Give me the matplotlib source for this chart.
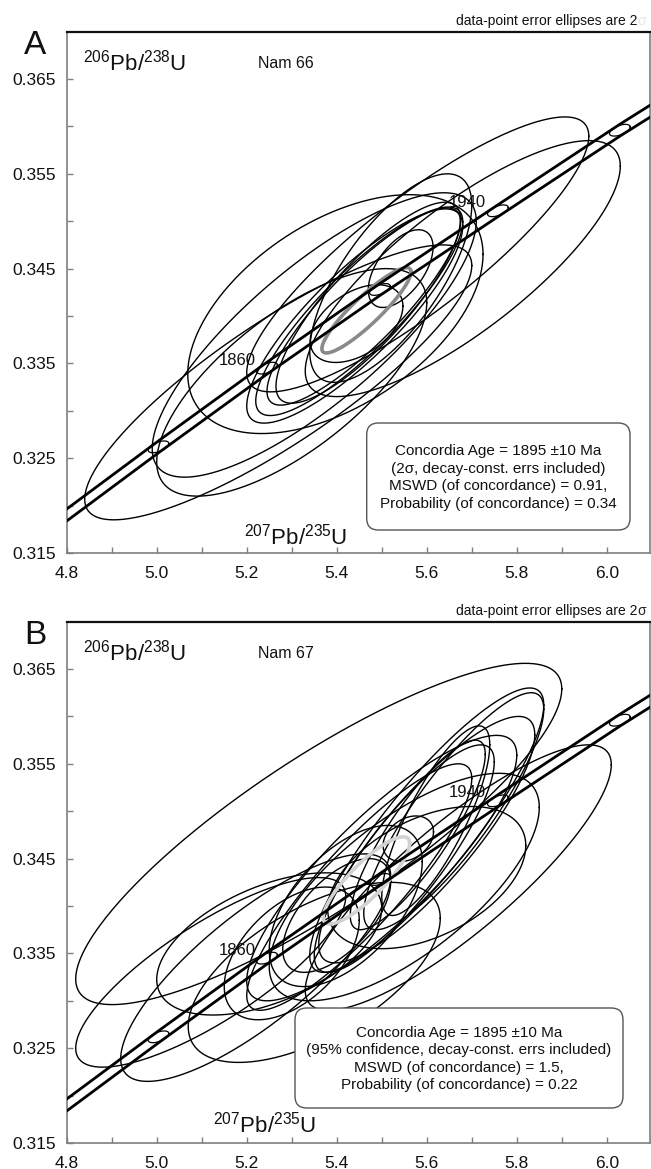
import numpy as np
import matplotlib
matplotlib.use('Agg')
import matplotlib.pyplot as plt
from matplotlib.patches import FancyBboxPatch

plt.rcParams['font.family'] = ['Liberation Sans', 'DejaVu Sans']
plt.rcParams['mathtext.fontset'] = 'custom'
plt.rcParams['mathtext.rm'] = 'Liberation Sans'

# ---------------- data ----------------
# concordia centre line
conc_x = [4.78, 5.004, 5.245, 5.496, 5.758, 6.029, 6.20]
conc_y = [0.3183, 0.3262, 0.3345, 0.3428, 0.3511, 0.3596, 0.3647]
conc_half_band = 0.00063
# age markers
mark_age = [1820, 1860, 1900, 1940, 1980]
mark_x = [5.004, 5.245, 5.496, 5.758, 6.029]
mark_y = [0.3262, 0.3345, 0.3428, 0.3511, 0.3596]
label_ages = ['1860', '1940']
label_x = [5.18, 5.69]
label_y = [0.3353, 0.3520]

# Panel A ellipses: centre x, centre y, half-width x, half-width y, rho
a_cx = [5.45, 5.46, 5.44, 5.47, 5.444, 5.542, 5.397, 5.58, 5.68, 5.27, 5.30, 5.52, 5.35]
a_cy = [0.3405, 0.3410, 0.3400, 0.3414, 0.3392, 0.3450, 0.3402, 0.3465, 0.3450, 0.3330, 0.3330, 0.3440, 0.3380]
a_sx = [0.23, 0.215, 0.24, 0.205, 0.103, 0.072, 0.328, 0.38, 0.35, 0.43, 0.30, 0.18, 0.36]
a_sy = [0.0110, 0.0104, 0.0113, 0.0106, 0.0041, 0.0041, 0.0126, 0.0145, 0.0135, 0.0145, 0.0120, 0.0110, 0.0150]
a_rho = [0.86, 0.86, 0.84, 0.83, 0.45, 0.55, 0.50, 0.86, 0.80, 0.85, 0.70, 0.70, 0.80]
a_grey = [5.466, 0.3406, 0.099, 0.0045, 0.90]

# Panel B ellipses
b_cx = [5.559, 5.36, 5.67, 5.60, 5.55, 5.58, 5.25, 5.42, 5.60, 5.35, 5.22, 5.50, 5.45, 5.62, 5.40, 5.30, 5.12, 5.55, 5.60, 5.66]
b_cy = [0.3471, 0.3476, 0.3430, 0.3470, 0.3450, 0.3475, 0.3360, 0.3400, 0.3430, 0.3330, 0.3335, 0.3440, 0.3420, 0.3490, 0.3390, 0.3350, 0.3330, 0.3420, 0.3480, 0.3500]
b_sx = [0.056, 0.54, 0.34, 0.24, 0.20, 0.15, 0.25, 0.17, 0.22, 0.28, 0.30, 0.30, 0.25, 0.12, 0.12, 0.15, 0.30, 0.30, 0.26, 0.20]
b_sy = [0.0024, 0.0180, 0.0140, 0.0130, 0.0120, 0.0100, 0.0075, 0.0085, 0.0075, 0.0095, 0.0120, 0.0140, 0.0130, 0.0100, 0.0060, 0.0070, 0.0100, 0.0120, 0.0150, 0.0125]
b_rho = [0.30, 0.85, 0.85, 0.85, 0.85, 0.85, 0.50, 0.55, 0.45, 0.60, 0.80, 0.85, 0.88, 0.80, 0.60, 0.50, 0.80, 0.70, 0.88, 0.86]
b_grey = [5.466, 0.3427, 0.096, 0.0046, 0.85]

x_ticklabels = ['4.8', '5.0', '5.2', '5.4', '5.6', '5.8', '6.0']
y_ticklabels = ['0.315', '0.325', '0.335', '0.345', '0.355', '0.365']

panels = [
    dict(letter='A', name='Nam 66', cx=a_cx, cy=a_cy, sx=a_sx, sy=a_sy, rho=a_rho,
         grey=a_grey, grey_col='#8a8a8a',
         box=['Concordia Age = 1895 \u00b110 Ma', '(2\u03c3, decay-const. errs included)',
              'MSWD (of concordance) = 0.91,', 'Probability (of concordance) = 0.34'],
         sigma_col='#e6e6e6'),
    dict(letter='B', name='Nam 67', cx=b_cx, cy=b_cy, sx=b_sx, sy=b_sy, rho=b_rho,
         grey=b_grey, grey_col='#d2d2d2',
         box=['Concordia Age = 1895 \u00b110 Ma', '(95% confidence, decay-const. errs included)',
              'MSWD (of concordance) = 1.5,', 'Probability (of concordance) = 0.22'],
         sigma_col='#222222'),
]

W, H = 651, 1169
fig = plt.figure(figsize=(W / 100, H / 100), dpi=100)

xlim = (4.8, 6.096)
ylim = (0.315, 0.36996)
ax_left_px, ax_right_px = 66.7, 650
ax_tops = [32, 622]
ax_h_px = 521
box_geom = [(366.7, 423, 630, 530), (295, 1008, 623, 1108)]
xlab_pos = [(296, 537), (265, 1125)]

t = np.linspace(0, 2 * np.pi, 361)


def ell(ax, cx, cy, sx, sy, rho, **kw):
    xs = cx + sx * np.cos(t)
    ys = cy + sy * (rho * np.cos(t) + np.sqrt(1 - rho ** 2) * np.sin(t))
    ax.plot(xs, ys, **kw)


def px2fig(x, y):
    return x / W, 1 - y / H


for i, p in enumerate(panels):
    top = ax_tops[i]
    ax = fig.add_axes([ax_left_px / W, 1 - (top + ax_h_px) / H,
                       (ax_right_px - ax_left_px) / W, ax_h_px / H])
    ax.set_xlim(*xlim)
    ax.set_ylim(*ylim)

    for s in ['left', 'bottom', 'right']:
        ax.spines[s].set_color('#7f7f7f')
        ax.spines[s].set_linewidth(1.2)
    ax.spines['top'].set_color('#111111')
    ax.spines['top'].set_linewidth(1.6)

    xt = np.arange(48, 61) / 10
    ax.set_xticks(xt)
    ax.set_xticklabels([x_ticklabels[j // 2] if j % 2 == 0 else '' for j in range(len(xt))])
    yt = np.arange(315, 370, 5) / 1000
    ax.set_yticks(yt)
    ax.set_yticklabels([y_ticklabels[j // 2] if j % 2 == 0 else '' for j in range(len(yt))])
    ax.tick_params(direction='in', length=4, width=1, color='#7f7f7f', labelsize=12.5,
                   labelcolor='#111111')
    ax.tick_params(axis='x', pad=9)
    ax.tick_params(axis='y', pad=8)

    # ellipses
    for cx, cy, sx, sy, rho in zip(p['cx'], p['cy'], p['sx'], p['sy'], p['rho']):
        ell(ax, cx, cy, sx, sy, rho, color='black', lw=1.0, zorder=2)
    g = p['grey']
    ell(ax, *g, color=p['grey_col'], lw=2.6, zorder=3)

    # concordia band
    cxs = np.array(conc_x)
    cys = np.array(conc_y)
    ax.plot(cxs, cys + conc_half_band, color='black', lw=2.0, zorder=4, solid_capstyle='butt')
    ax.plot(cxs, cys - conc_half_band, color='black', lw=2.0, zorder=4, solid_capstyle='butt')
    for mx, my in zip(mark_x, mark_y):
        ell(ax, mx, my, 0.023, 0.00062, 0.55, color='black', lw=0.9, zorder=4)
    for lab, lx, ly in zip(label_ages, label_x, label_y):
        ax.text(lx, ly, lab, fontsize=12, ha='center', va='center', color='#111111', zorder=5)

    # labels
    ax.text((83 - ax_left_px) / (ax_right_px - ax_left_px), 1 - 31 / ax_h_px,
            r'$\mathregular{^{206}Pb/^{238}U}$', transform=ax.transAxes, fontsize=16,
            ha='left', va='center', color='#111111')
    ax.text((258 - ax_left_px) / (ax_right_px - ax_left_px), 1 - 31 / ax_h_px, p['name'],
            transform=ax.transAxes, fontsize=11.5, ha='left', va='center', color='#111111')
    fx, fy = px2fig(*xlab_pos[i])
    fig.text(fx, fy, r'$\mathregular{^{207}Pb/^{235}U}$', fontsize=16, ha='center', va='center',
             color='#111111')

    # letter
    lx, ly = px2fig(35, top + 14)
    fig.text(lx, ly, p['letter'], fontsize=24, ha='center', va='center', color='#111111')
    # header
    hx, hy = px2fig(637, top - 11)
    fig.text(hx, hy, 'data-point error ellipses are 2', fontsize=10, ha='right', va='center',
             color='#111111')
    fig.text(hx, hy, '\u03c3', fontsize=10, ha='left', va='center', color=p['sigma_col'])

    # result box
    x0, y0, x1, y1 = box_geom[i]
    bx0, by0 = px2fig(x0, y1)
    bx1, by1 = px2fig(x1, y0)
    box = FancyBboxPatch((bx0, by0), bx1 - bx0, by1 - by0,
                         boxstyle='round,pad=0,rounding_size=0.018',
                         transform=fig.transFigure, facecolor='white',
                         edgecolor='#555555', lw=1.0, zorder=10,
                         mutation_aspect=W / H)
    fig.add_artist(box)
    cxp = (x0 + x1) / 2
    tx, ty = px2fig(cxp, (y0 + y1) / 2 + 1)
    fig.text(tx, ty, '\n'.join(p['box']), fontsize=11, ha='center', va='center',
             linespacing=1.32, color='#111111', zorder=11)

fig.savefig('out.png', dpi=100)
